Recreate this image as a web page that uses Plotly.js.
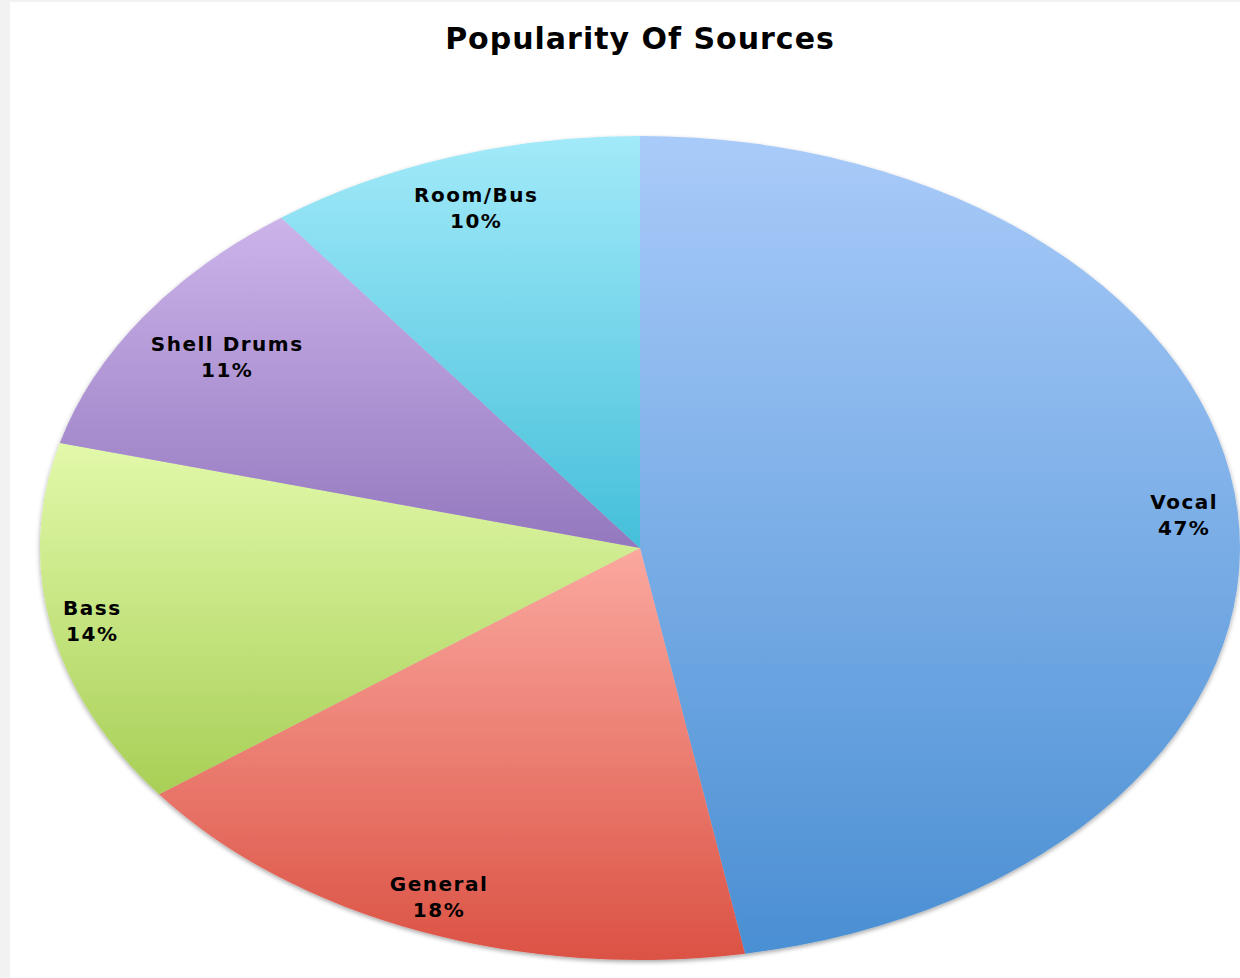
<!DOCTYPE html>
<html><head><meta charset="utf-8">
<script src="https://cdn.plot.ly/plotly-3.0.1.min.js"></script>
<style>
html,body{margin:0;padding:0;background:#f2f2f2;width:1240px;height:978px;overflow:hidden;}
#chart{position:absolute;left:10px;top:2px;width:1230px;height:976px;background:#fff;overflow:hidden;}
#chart .gtitle{letter-spacing:1px;}
#chart .annotation-text{letter-spacing:1.5px;}
</style>
</head><body><div id="chart"></div>
<script>
// ---- data ----
const categories = ['Vocal', 'General', 'Bass', 'Shell Drums', 'Room/Bus'];
const shares = [47.2, 17.6, 14.3, 10.7, 10.2];
const chartTitle = 'Popularity Of Sources';

// ---- styles ----
const topColors    = ['#a9cbf9', '#fba89f', '#e2f9aa', '#ccb4ea', '#a2eaf9'];
const bottomColors = ['#4a8fd3', '#db5244', '#a8cf56', '#9478bf', '#45bfda'];
const midColors    = ['#7aaee6', '#ed7b70', '#cde580', '#ae95d4', '#72d6ea'];
const labelR = [0.91, 0.91, 0.93, 0.83, 0.87];

// ---- layout geometry (div coordinates) ----
const W = 1230, H = 976;
const CX = 630, CY = 546, RY = 412, RX = 600;
const M = {l: 0, r: 0, t: CY - RY, b: H - CY - RY};
const plotH = H - M.t - M.b;

const total = shares.reduce((a, b) => a + b, 0);
let cum = 0;
const annotations = categories.map((c, i) => {
  const mid = (cum + shares[i] / 2) / total;
  cum += shares[i];
  const th = mid * 2 * Math.PI;
  const px = CX + RX * labelR[i] * Math.sin(th);
  const py = CY - RY * labelR[i] * Math.cos(th);
  const pct = Math.round(shares[i] / total * 100);
  return {
    xref: 'paper', yref: 'paper',
    x: px / W, y: (H - M.b - py) / plotH,
    xanchor: 'center', yanchor: 'middle',
    text: '<b>' + c + '<br>' + pct + '%</b>',
    showarrow: false, align: 'center',
    font: {family: 'DejaVu Sans', size: 20, color: '#000'}
  };
});

const trace = {
  type: 'pie',
  labels: categories,
  values: shares,
  sort: false,
  direction: 'clockwise',
  rotation: 0,
  textinfo: 'none',
  hoverinfo: 'skip',
  marker: {colors: midColors, line: {width: 0}},
  domain: {x: [(2 * CX - W) / W, 1], y: [0, 1]},
  showlegend: false
};

const layout = {
  width: W, height: H,
  margin: M,
  paper_bgcolor: '#ffffff',
  plot_bgcolor: '#ffffff',
  title: {
    text: '<b>' + chartTitle + '</b>',
    font: {family: 'DejaVu Sans', size: 30, color: '#000'},
    x: CX / W, xanchor: 'center',
    y: 1 - 36 / H, yanchor: 'middle', yref: 'container'
  },
  annotations: annotations,
  showlegend: false
};

Plotly.newPlot('chart', [trace], layout, {staticPlot: true, displayModeBar: false}).then(() => {
  const svgNS = 'http://www.w3.org/2000/svg';
  const svg = document.querySelector('#chart .main-svg');
  const defs = document.createElementNS(svgNS, 'defs');
  topColors.forEach((tc, i) => {
    const g = document.createElementNS(svgNS, 'linearGradient');
    g.setAttribute('id', 'sliceGrad' + i);
    g.setAttribute('x1', '0'); g.setAttribute('y1', '0');
    g.setAttribute('x2', '0'); g.setAttribute('y2', '1');
    const s1 = document.createElementNS(svgNS, 'stop');
    s1.setAttribute('offset', '0'); s1.setAttribute('stop-color', tc);
    const s2 = document.createElementNS(svgNS, 'stop');
    s2.setAttribute('offset', '1'); s2.setAttribute('stop-color', bottomColors[i]);
    g.appendChild(s1); g.appendChild(s2);
    defs.appendChild(g);
  });
  const f = document.createElementNS(svgNS, 'filter');
  f.setAttribute('id', 'pieShadow');
  f.setAttribute('x', '-10%'); f.setAttribute('y', '-10%');
  f.setAttribute('width', '120%'); f.setAttribute('height', '120%');
  const ds = document.createElementNS(svgNS, 'feDropShadow');
  ds.setAttribute('dx', '0'); ds.setAttribute('dy', '2');
  ds.setAttribute('stdDeviation', '2'); ds.setAttribute('flood-color', '#000');
  ds.setAttribute('flood-opacity', '0.35');
  f.appendChild(ds); defs.appendChild(f);
  svg.insertBefore(defs, svg.firstChild);

  document.querySelectorAll('#chart .pielayer .trace').forEach(tg => {
    tg.querySelectorAll('path.surface').forEach((p, i) => {
      p.style.fill = 'url(#sliceGrad' + i + ')';
    });
    const bb = tg.getBBox();
    const cx = bb.x + bb.width / 2;
    const k = RX / RY;
    tg.setAttribute('transform', `translate(${cx},0) scale(${k},1) translate(${-cx},0)`);
    tg.setAttribute('filter', 'url(#pieShadow)');
  });
});
</script>
</body></html>
